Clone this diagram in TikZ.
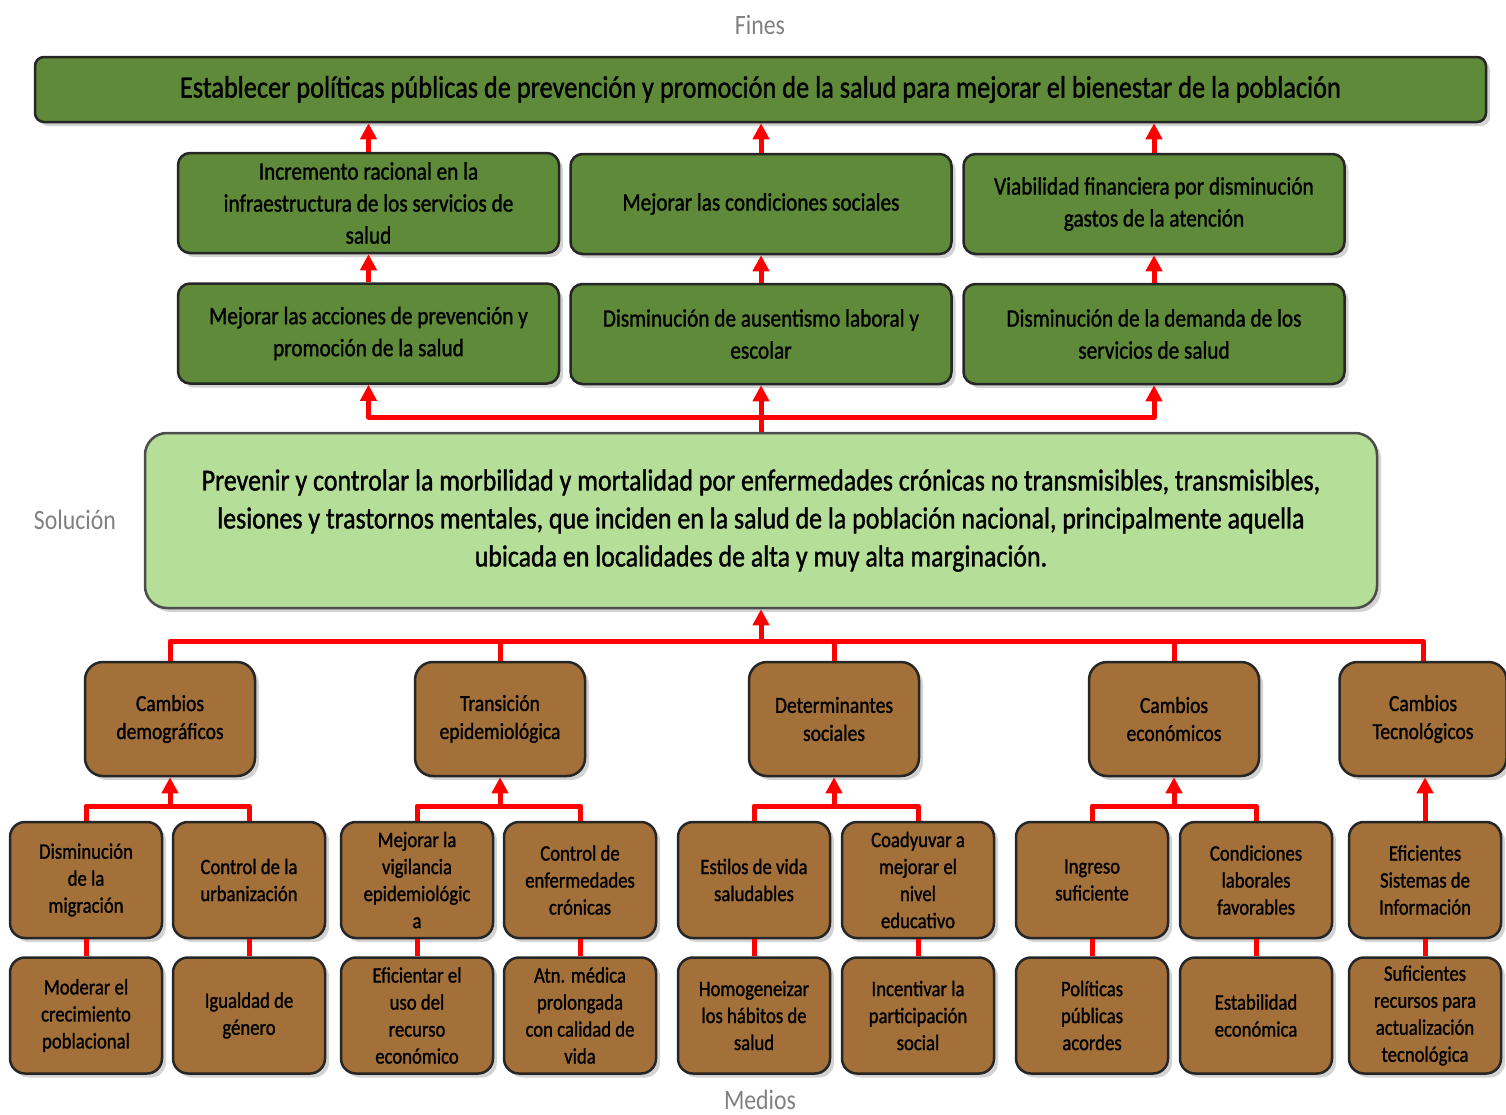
\documentclass[tikz,border=0pt]{standalone}
\usepackage{fontspec}
\setmainfont{Carlito}[FakeStretch=0.85]
\newfontfamily\boxfont{Carlito}[FakeStretch=0.85, BoldFont=Carlito, BoldFeatures={FakeBold=1.2}]
\usetikzlibrary{arrows.meta,shadows}

\definecolor{fingreen}{RGB}{94,138,58}
\definecolor{solgreen}{RGB}{181,222,153}
\definecolor{medbrown}{RGB}{163,112,58}
\definecolor{labgray}{RGB}{128,128,128}

\tikzset{
  box/.style={draw=black!85, line width=2.5pt, align=center, inner sep=2pt,
    drop shadow={shadow xshift=4pt, shadow yshift=-4pt, opacity=.35}},
  finbox/.style={box, fill=fingreen, rounded corners=12pt,
    minimum width=381pt, minimum height=100pt, font=\fontsize{25}{32}\boxfont\bfseries},
  topbox/.style={box, fill=fingreen, rounded corners=9pt,
    minimum width=1451pt, minimum height=65pt, font=\fontsize{31}{36}\boxfont\bfseries},
  solbox/.style={box, draw=black!70, fill=solgreen, rounded corners=22pt,
    minimum width=1232pt, minimum height=175pt, font=\fontsize{30.5}{38}\boxfont\bfseries},
  causa/.style={box, fill=medbrown, rounded corners=18pt,
    minimum width=170pt, minimum height=114pt, font=\fontsize{23}{28}\boxfont\bfseries},
  medio/.style={box, fill=medbrown, rounded corners=15pt,
    minimum width=152pt, minimum height=116pt, font=\fontsize{22}{27}\boxfont\bfseries},
  etiq/.style={text=labgray, font=\fontsize{28}{30}\selectfont},
  redline/.style={draw=red, line width=5pt, line join=round},
  arr/.style={redline, -{Triangle[width=16pt,length=16pt]}},
}

\begin{document}
\begin{tikzpicture}[x=1pt,y=-1pt]
\useasboundingbox (0,0) rectangle (1506,1114);

% fines
\node[etiq] (fines) at (760,25) {Fines};
\node[topbox] (top) at (760.5,89.5) {Establecer políticas públicas de prevención y promoción de la salud para mejorar el bienestar de la población};

\node[finbox] (incr) at (368.5,203) {Incremento racional en la\\infraestructura de los servicios de\\salud};
\node[finbox] (cond) at (761,204) {Mejorar las condiciones sociales};
\node[finbox] (viab) at (1154,204) {Viabilidad financiera por disminución\\gastos de la atención};

\node[finbox] (acc) at (368.5,333.5) {Mejorar las acciones de prevención y\\promoción de la salud};
\node[finbox] (aus) at (761,334) {Disminución de ausentismo laboral y\\escolar};
\node[finbox] (dem) at (1154,334) {Disminución de la demanda de los\\servicios de salud};

\draw[arr] (incr.north) -- (incr.north |- top.south);
\draw[arr] (cond.north) -- (cond.north |- top.south);
\draw[arr] (viab.north) -- (viab.north |- top.south);
\draw[arr] (acc.north) -- (incr.south);
\draw[arr] (aus.north) -- (cond.south);
\draw[arr] (dem.north) -- (viab.south);

% solucion
\node[etiq] (solu) at (75,520) {Solución};
\node[solbox] (sol) at (761,520.5) {Prevenir y controlar la morbilidad y mortalidad por enfermedades crónicas no transmisibles, transmisibles,\\lesiones y trastornos mentales, que inciden en la salud de la población nacional, principalmente aquella\\ubicada en localidades de alta y muy alta marginación.};

\coordinate (busup) at (761,417);
\draw[redline] (sol.north) -- (busup);
\draw[arr] (busup) -| (acc.south);
\draw[arr] (busup) -- (aus.south);
\draw[arr] (busup) -| (dem.south);

% medios
\node[causa] (demog) at (170,719) {Cambios\\demográficos};
\node[causa] (trans) at (500,719) {Transición\\epidemiológica};
\node[causa] (deter) at (834,719) {Determinantes\\sociales};
\node[causa] (econ) at (1174,719) {Cambios\\económicos};
\node[causa, minimum width=167pt] (tecno) at (1423,719) {Cambios\\Tecnológicos};

\coordinate (busdown) at (761,641);
\draw[arr] (busdown) -- (sol.south);
\draw[redline] (busdown) -| (demog.north);
\draw[redline] (busdown) -| (trans.north);
\draw[redline] (busdown) -| (deter.north);
\draw[redline] (busdown) -| (econ.north);
\draw[redline] (busdown) -| (tecno.north);

\node[medio] (migr) at (86,880) {Disminución\\de la\\migración};
\node[medio] (urban) at (249,880) {Control de la\\urbanización};
\node[medio] (vigil) at (417,880) {Mejorar la\\vigilancia\\epidemiológic\\a};
\node[medio] (cron) at (580,880) {Control de\\enfermedades\\crónicas};
\node[medio] (estil) at (754,880) {Estilos de vida\\saludables};
\node[medio] (educ) at (918,880) {Coadyuvar a\\mejorar el\\nivel\\educativo};
\node[medio] (ingr) at (1092,880) {Ingreso\\suficiente};
\node[medio] (labor) at (1256,880) {Condiciones\\laborales\\favorables};
\node[medio] (sist) at (1425,880) {Eficientes\\Sistemas de\\Información};

\node[medio] (moder) at (86,1015.5) {Moderar el\\crecimiento\\poblacional};
\node[medio] (igual) at (249,1015.5) {Igualdad de\\género};
\node[medio] (efic) at (417,1015.5) {Eficientar el\\uso del\\recurso\\económico};
\node[medio] (atn) at (580,1015.5) {Atn. médica\\prolongada\\con calidad de\\vida};
\node[medio] (homog) at (754,1015.5) {Homogeneizar\\los hábitos de\\salud};
\node[medio] (incen) at (918,1015.5) {Incentivar la\\participación\\social};
\node[medio] (polit) at (1092,1015.5) {Políticas\\públicas\\acordes};
\node[medio] (estab) at (1256,1015.5) {Estabilidad\\económica};
\node[medio] (recur) at (1425,1015.5) {Suficientes\\recursos para\\actualización\\tecnológica};

\coordinate (ga) at (170,806);
\coordinate (gb) at (500,806);
\coordinate (gc) at (834,806);
\coordinate (gd) at (1174,806);
\draw[arr] (ga) -- (demog.south);
\draw[arr] (gb) -- (trans.south);
\draw[arr] (gc) -- (deter.south);
\draw[arr] (gd) -- (econ.south);
\draw[redline] (migr.north) |- (ga) -| (urban.north);
\draw[redline] (vigil.north) |- (gb) -| (cron.north);
\draw[redline] (estil.north) |- (gc) -| (educ.north);
\draw[redline] (ingr.north) |- (gd) -| (labor.north);
\draw[arr] (sist.north) -- (sist.north |- tecno.south);

\draw[redline] (moder.north) -- (migr.south);
\draw[redline] (igual.north) -- (urban.south);
\draw[redline] (efic.north) -- (vigil.south);
\draw[redline] (atn.north) -- (cron.south);
\draw[redline] (homog.north) -- (estil.south);
\draw[redline] (incen.north) -- (educ.south);
\draw[redline] (polit.north) -- (ingr.south);
\draw[redline] (estab.north) -- (labor.south);
\draw[redline] (recur.north) -- (sist.south);

\node[etiq] (medios) at (760,1100) {Medios};
\end{tikzpicture}
\end{document}
